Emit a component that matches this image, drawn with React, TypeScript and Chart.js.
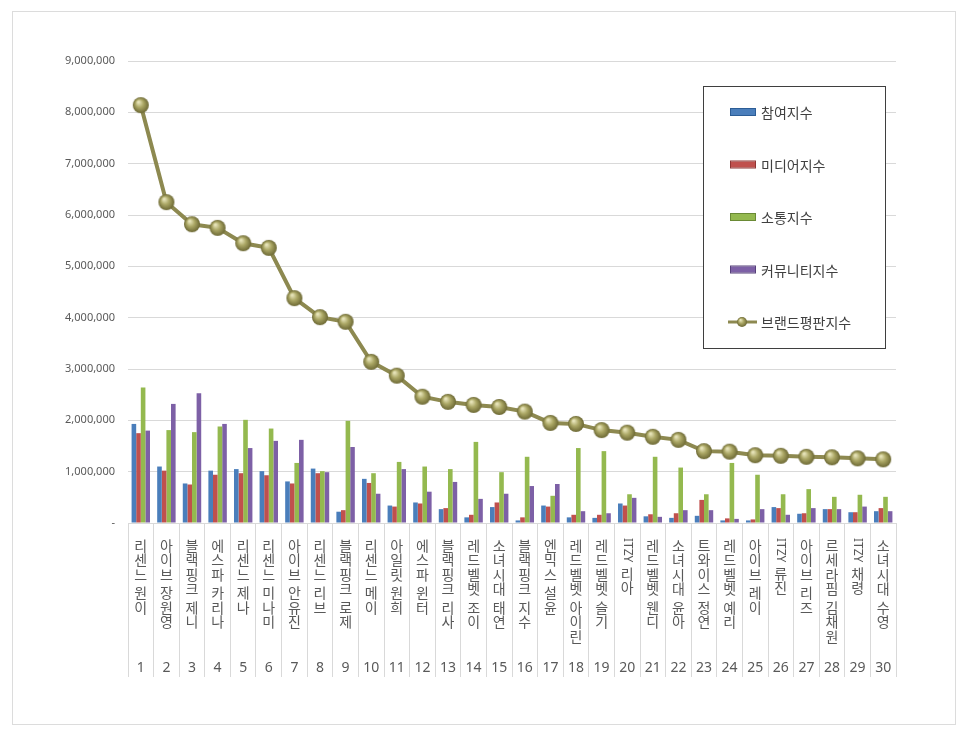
import { useEffect, useRef } from 'react';
import { Chart, registerables } from 'chart.js';

Chart.register(...registerables);

const names = [
  '리센느 원이', '아이브 장원영', '블랙핑크 제니', '에스파 카리나', '리센느 제나',
  '리센느 미나미', '아이브 안유진', '리센느 리브', '블랙핑크 로제', '리센느 메이',
  '아일릿 원희', '에스파 윈터', '블랙핑크 리사', '레드벨벳 조이', '소녀시대 태연',
  '블랙핑크 지수', '엔믹스 설윤', '레드벨벳 아이린', '레드벨벳 슬기', 'ITZY 리아',
  '레드벨벳 웬디', '소녀시대 윤아', '트와이스 정연', '레드벨벳 예리', '아이브 레이',
  'ITZY 류진', '아이브 리즈', '르세라핌 김채원', 'ITZY 채령', '소녀시대 수영',
];
const ranks = [
  '1', '2', '3', '4', '5', '6', '7', '8', '9', '10',
  '11', '12', '13', '14', '15', '16', '17', '18', '19', '20',
  '21', '22', '23', '24', '25', '26', '27', '28', '29', '30',
];

// 참여지수
const participation = [
  1930000, 1100000, 770000, 1020000, 1050000, 1010000, 810000, 1060000, 220000, 860000,
  340000, 400000, 270000, 110000, 310000, 50000, 340000, 110000, 100000, 380000,
  130000, 100000, 140000, 50000, 50000, 310000, 180000, 270000, 210000, 230000,
];
// 미디어지수
const media = [
  1750000, 1020000, 750000, 940000, 970000, 930000, 770000, 970000, 250000, 780000,
  320000, 380000, 290000, 160000, 400000, 110000, 320000, 160000, 160000, 340000,
  170000, 190000, 450000, 90000, 70000, 290000, 190000, 270000, 210000, 290000,
];
// 소통지수
const communication = [
  2640000, 1810000, 1770000, 1880000, 2010000, 1840000, 1170000, 1010000, 1990000, 970000,
  1190000, 1100000, 1050000, 1580000, 990000, 1290000, 530000, 1460000, 1400000, 560000,
  1290000, 1080000, 560000, 1170000, 940000, 560000, 660000, 510000, 550000, 510000,
];
// 커뮤니티지수
const community = [
  1800000, 2320000, 2530000, 1930000, 1460000, 1600000, 1620000, 990000, 1480000, 570000,
  1050000, 610000, 800000, 470000, 570000, 720000, 760000, 230000, 190000, 490000,
  120000, 250000, 250000, 80000, 270000, 160000, 290000, 270000, 320000, 230000,
];
// 브랜드평판지수
const brand = [
  8140000, 6250000, 5820000, 5750000, 5450000, 5360000, 4380000, 4010000, 3920000, 3140000,
  2870000, 2460000, 2360000, 2300000, 2260000, 2170000, 1950000, 1930000, 1810000, 1760000,
  1680000, 1620000, 1400000, 1390000, 1320000, 1310000, 1290000, 1280000, 1260000, 1240000,
];

const yTicks = [0, 1000000, 2000000, 3000000, 4000000, 5000000, 6000000, 7000000, 8000000, 9000000];

const TEXT = '#595959';
const GRID = '#d9d9d9';

function makeBall(r: number) {
  const c = document.createElement('canvas');
  const s = r * 2 + 2;
  c.width = s;
  c.height = s;
  const g = c.getContext('2d')!;
  const m = s / 2;
  const grad = g.createRadialGradient(m - r * 0.3, m - r * 0.4, r * 0.1, m, m, r);
  grad.addColorStop(0, '#e6e3b8');
  grad.addColorStop(0.45, '#aba765');
  grad.addColorStop(1, '#6c6834');
  g.fillStyle = grad;
  g.beginPath();
  g.arc(m, m, r, 0, Math.PI * 2);
  g.fill();
  return c;
}

// vertical (stacked) category names + rank numbers under the axis
const nameLabels = {
  id: 'nameLabels',
  afterDraw(chart: any) {
    const { ctx } = chart;
    const xs = chart.scales.x;
    ctx.save();
    ctx.fillStyle = TEXT;
    ctx.textAlign = 'center';
    ctx.textBaseline = 'middle';
    names.forEach((name, i) => {
      const px = xs.getPixelForValue(i);
      let y = xs.top + 15;
      name.split(' ').forEach((part, k) => {
        if (k > 0) y += 4;
        if (/^[A-Za-z]+$/.test(part)) {
          ctx.font = '12px "Noto Sans"';
          const w = ctx.measureText(part).width;
          ctx.save();
          ctx.translate(px, y + w / 2);
          ctx.rotate(Math.PI / 2);
          ctx.fillText(part, 0, 0);
          ctx.restore();
          y += w;
        } else {
          ctx.font = '14px "Noto Sans CJK KR"';
          for (const ch of part) {
            ctx.fillText(ch, px, y + 7.25);
            y += 14.5;
          }
        }
      });
      ctx.font = '14px "Noto Sans"';
      ctx.fillText(ranks[i], px, xs.bottom - 9);
    });
    ctx.restore();
  },
};

const boxLegend = {
  id: 'boxLegend',
  afterDraw(chart: any) {
    const { ctx } = chart;
    const left = 703;
    const top = 86;
    ctx.save();
    ctx.fillStyle = '#ffffff';
    ctx.fillRect(left, top, 182, 262);
    ctx.strokeStyle = '#3f3f3f';
    ctx.lineWidth = 1;
    ctx.strokeRect(left + 0.5, top + 0.5, 182, 262);
    ctx.textAlign = 'left';
    ctx.textBaseline = 'middle';
    ctx.font = '14px "Noto Sans CJK KR"';
    chart.data.datasets.forEach((ds: any, i: number) => {
      const cy = top + 26 + i * 52.5;
      if (ds.type === 'line') {
        ctx.strokeStyle = ds.borderColor;
        ctx.lineWidth = 3;
        ctx.beginPath();
        ctx.moveTo(728, cy);
        ctx.lineTo(757, cy);
        ctx.stroke();
        ctx.drawImage(legendBall, 742 - 6, cy - 6);
      } else {
        ctx.fillStyle = ds.backgroundColor;
        ctx.fillRect(730, cy - 3, 25, 6);
        ctx.strokeStyle = ds.borderColor;
        ctx.lineWidth = 1;
        ctx.strokeRect(730.5, cy - 3.5, 25, 7);
      }
      ctx.fillStyle = '#404040';
      ctx.fillText(ds.label, 761, cy + 1);
    });
    ctx.restore();
  },
};

const ball = makeBall(8);
const legendBall = makeBall(5);

export default function App() {
  const canvasRef = useRef<HTMLCanvasElement>(null);
  const chartRef = useRef<Chart | null>(null);

  useEffect(() => {
    if (!canvasRef.current) return;
    if (chartRef.current) chartRef.current.destroy();

    const bar = (label: string, data: number[], color: string, border: string) => ({
      type: 'bar' as const,
      label,
      data,
      backgroundColor: color,
      borderColor: border,
      borderWidth: 0,
      barPercentage: 1,
      categoryPercentage: 0.72,
      order: 1,
    });

    chartRef.current = new Chart(canvasRef.current, {
      type: 'bar',
      data: {
        labels: names,
        datasets: [
          bar('참여지수', participation, '#4a7ebb', '#2c5d96'),
          bar('미디어지수', media, '#c0504d', '#8e3533'),
          bar('소통지수', communication, '#94b94f', '#6a8a35'),
          bar('커뮤니티지수', community, '#7d60a6', '#56407a'),
          {
            type: 'line' as const,
            label: '브랜드평판지수',
            data: brand,
            borderColor: '#8d8950',
            borderWidth: 4,
            pointStyle: ball as any,
            pointRadius: 8,
            pointHoverRadius: 8,
            order: 0,
          } as any,
        ],
      },
      options: {
        animation: false,
        responsive: true,
        maintainAspectRatio: false,
        layout: { padding: { left: 0, top: 61, right: 70, bottom: 57 } },
        plugins: {
          legend: { display: false },
          tooltip: { enabled: false },
        },
        scales: {
          x: {
            offset: true,
            ticks: { display: false },
            grid: {
              offset: true,
              drawOnChartArea: false,
              drawTicks: true,
              tickLength: 154,
              color: GRID,
            },
            border: { display: true, color: GRID },
            afterFit: (scale: any) => {
              scale.height = 154;
            },
          },
          y: {
            min: 0,
            max: 9000000,
            afterBuildTicks: (scale: any) => {
              scale.ticks = yTicks.map((v) => ({ value: v }));
            },
            ticks: {
              padding: 13,
              color: TEXT,
              font: { family: '"Noto Sans", sans-serif', size: 11 },
              callback: (v: any) => (Number(v) === 0 ? '-' : Number(v).toLocaleString('en-US')),
            },
            grid: { color: GRID, drawTicks: false },
            border: { display: false },
            afterFit: (scale: any) => {
              scale.width = 128;
            },
          },
        },
      },
      plugins: [nameLabels, boxLegend],
    });

    return () => {
      if (chartRef.current) {
        chartRef.current.destroy();
        chartRef.current = null;
      }
    };
  }, []);

  return (
    <div style={{ position: 'fixed', left: 0, top: 0, width: 966, height: 734, background: '#fff' }}>
      <div
        style={{
          position: 'absolute',
          left: 12,
          top: 11,
          width: 942,
          height: 712,
          border: '1px solid #dcdcdc',
          boxSizing: 'content-box',
        }}
      />
      <canvas ref={canvasRef} style={{ position: 'absolute', left: 0, top: 0 }} />
    </div>
  );
}
